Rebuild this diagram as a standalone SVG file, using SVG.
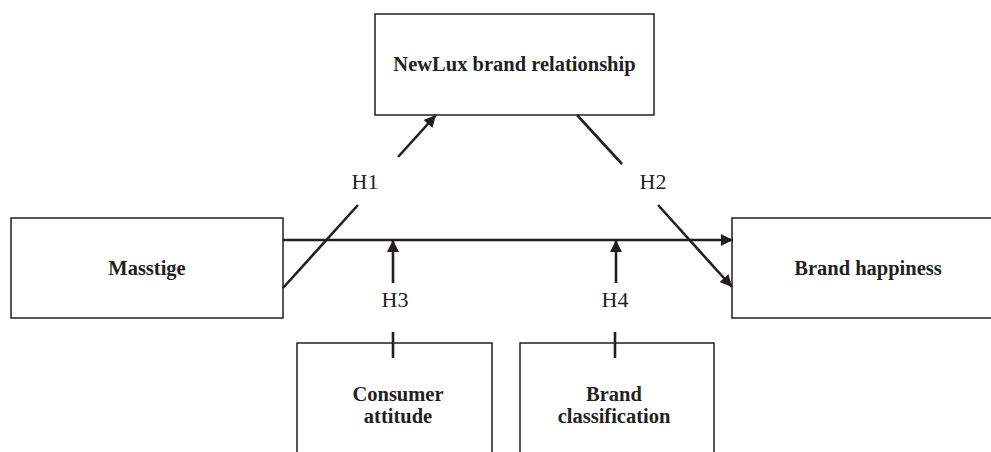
<svg xmlns="http://www.w3.org/2000/svg" width="991" height="452" viewBox="0 0 991 452">
<style>
.box{fill:#fff;stroke:#231f20;stroke-width:1.5}
.lbl{font-family:"Liberation Serif","Times New Roman",serif;font-weight:bold;font-size:20.5px;fill:#231f20;text-anchor:middle}
.h{font-family:"Liberation Serif","Times New Roman",serif;font-size:22px;fill:#231f20;text-anchor:middle}
.con{stroke:#231f20;stroke-width:2.6;fill:none}
</style>
<defs>
<marker id="ah" viewBox="0 0 12 12" refX="12" refY="6" markerWidth="12" markerHeight="12" markerUnits="userSpaceOnUse" orient="auto">
<path d="M0,0 L12,6 L0,12 Z" fill="#231f20"/>
</marker>
</defs>
<rect width="991" height="452" fill="#fff"/>
<g id="newlux">
<rect class="box" x="375" y="14" width="279" height="101"/>
<text class="lbl" x="514.5" y="71">NewLux brand relationship</text>
</g>
<g id="masstige">
<rect class="box" x="11" y="218" width="272" height="100"/>
<text class="lbl" x="147" y="275">Masstige</text>
</g>
<g id="happiness">
<rect class="box" x="732" y="218" width="280" height="100"/>
<text class="lbl" x="868" y="275">Brand happiness</text>
</g>
<g id="consumer">
<rect class="box" x="297" y="343" width="195" height="130"/>
<text class="lbl" x="398" y="401">Consumer</text>
<text class="lbl" x="398" y="423">attitude</text>
</g>
<g id="classification">
<rect class="box" x="520" y="343" width="194" height="130"/>
<text class="lbl" x="614" y="401">Brand</text>
<text class="lbl" x="614" y="423">classification</text>
</g>
<g id="connectors">
<line class="con" x1="283" y1="240" x2="733" y2="240" marker-end="url(#ah)"/>
<line class="con" x1="283" y1="288" x2="358" y2="205"/>
<line class="con" x1="398" y1="157" x2="436" y2="115" marker-end="url(#ah)"/>
<line class="con" x1="577" y1="115" x2="622" y2="164"/>
<line class="con" x1="658" y1="205" x2="732" y2="287" marker-end="url(#ah)"/>
<line class="con" x1="393" y1="283" x2="393" y2="240" marker-end="url(#ah)"/>
<line class="con" x1="616" y1="283" x2="616" y2="240" marker-end="url(#ah)"/>
<line class="con" x1="393" y1="332" x2="393" y2="358"/>
<line class="con" x1="615" y1="332" x2="615" y2="358"/>
<text class="h" x="365" y="189">H1</text>
<text class="h" x="653" y="189">H2</text>
<text class="h" x="395" y="307">H3</text>
<text class="h" x="615" y="307">H4</text>
</g>
</svg>
